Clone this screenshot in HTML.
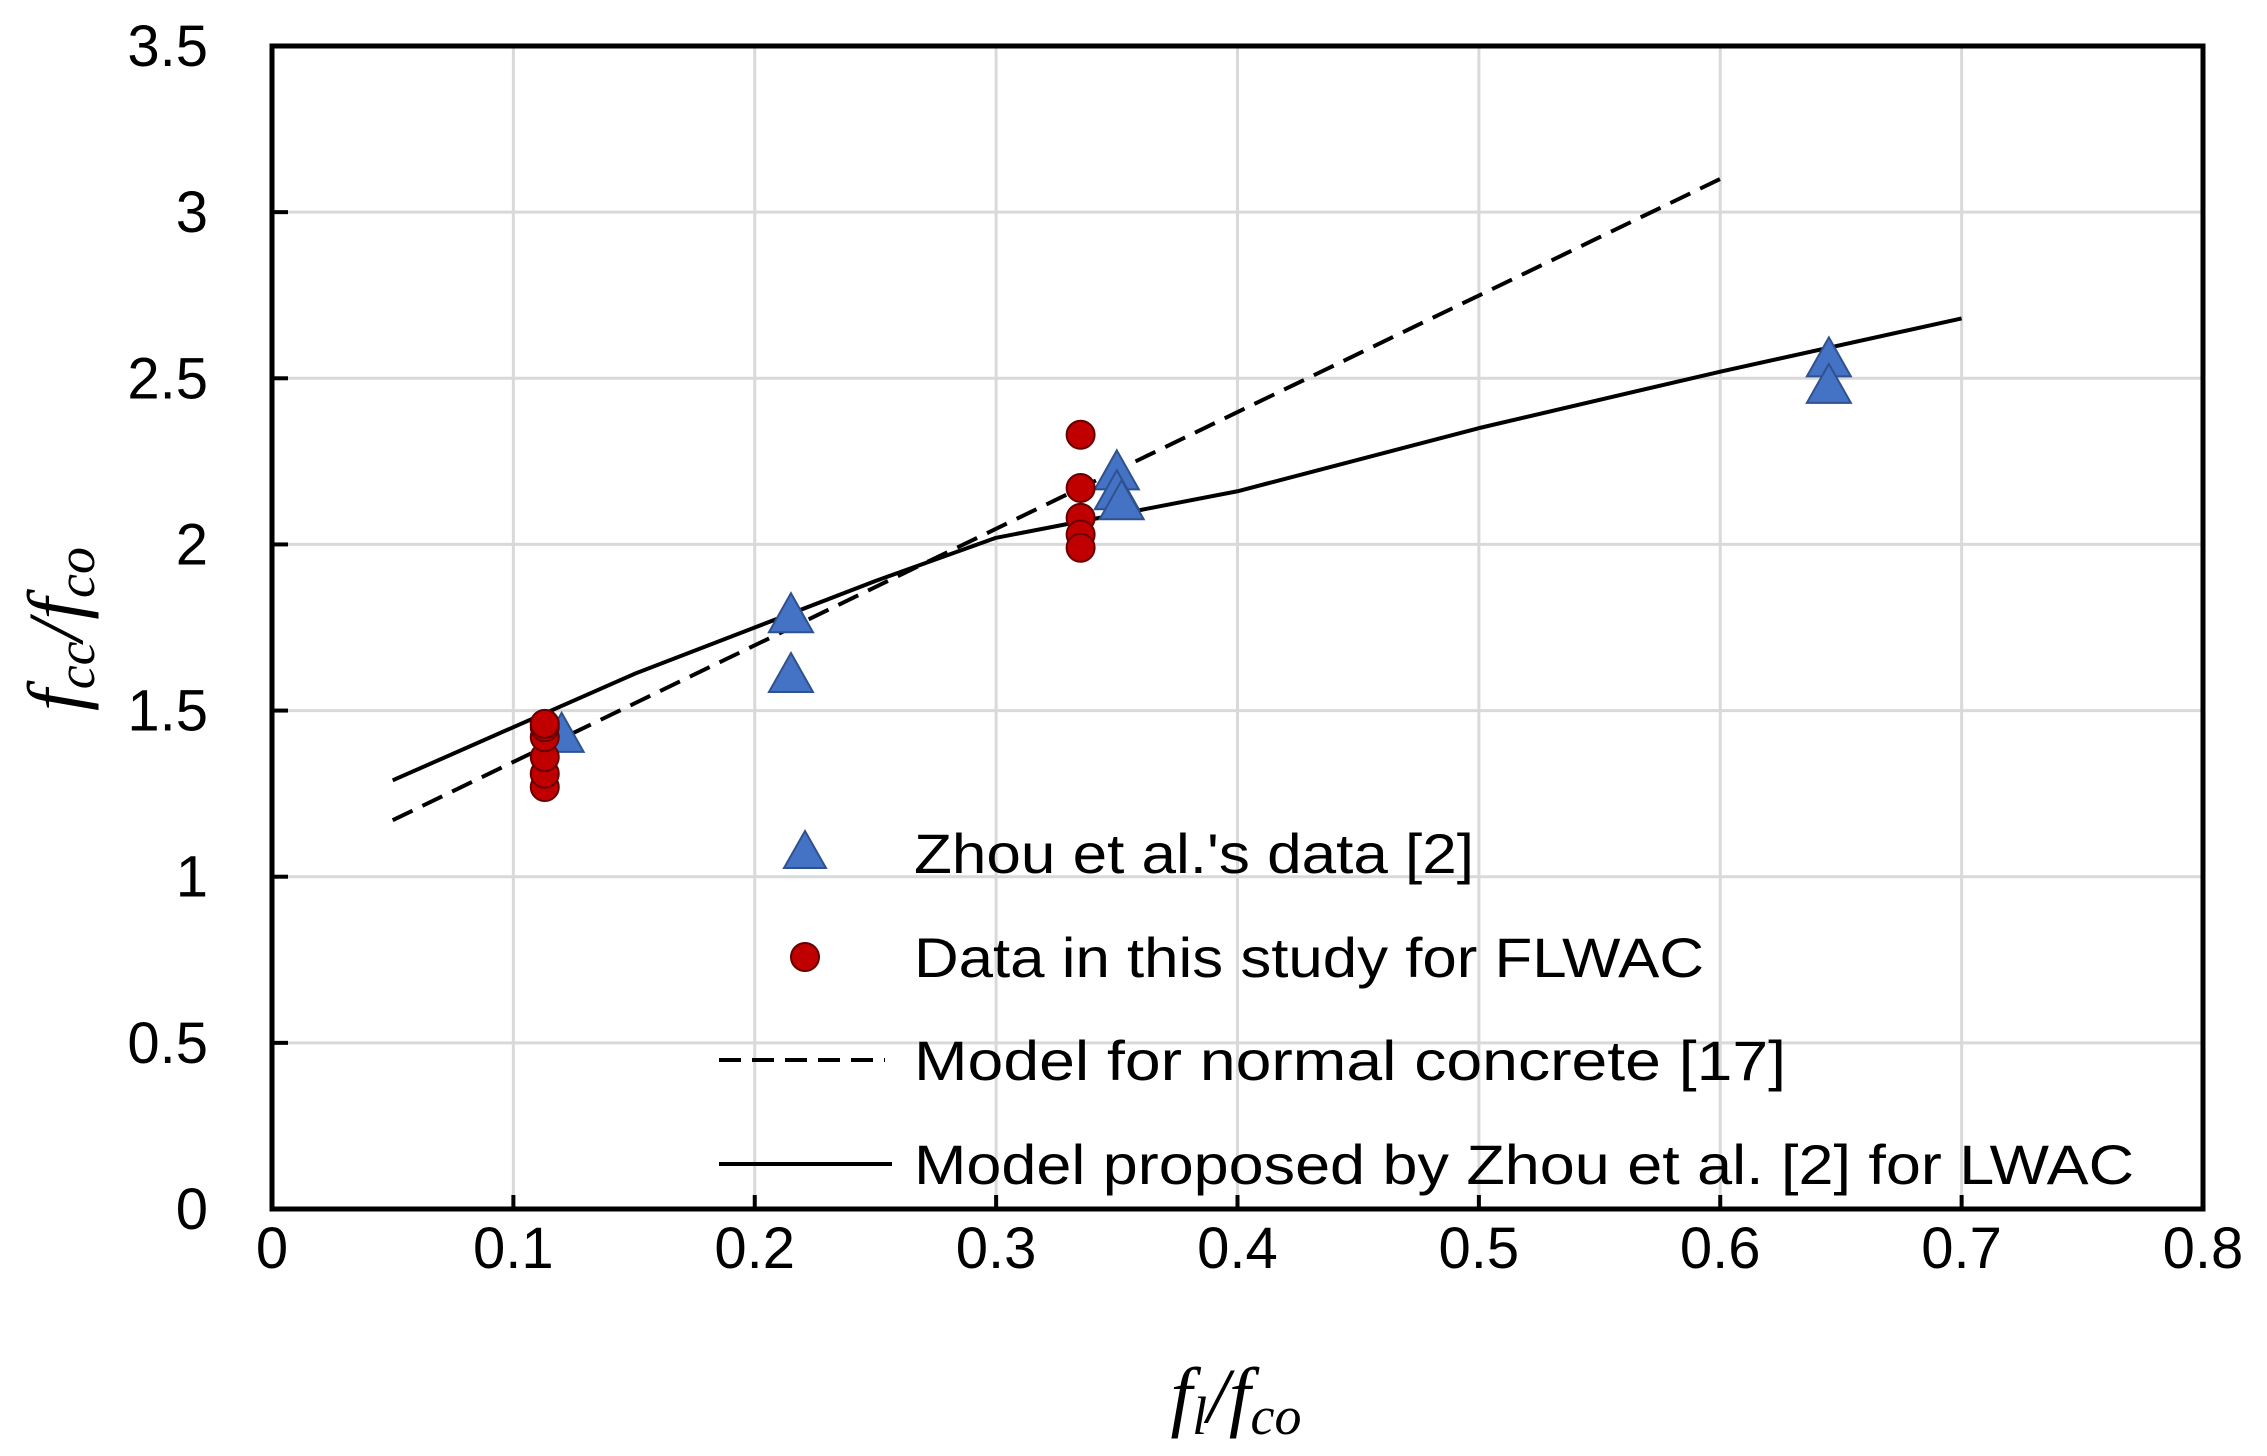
<!DOCTYPE html>
<html><head><meta charset="utf-8"><style>
body{margin:0;background:#fff}
svg{display:block;font-family:"Liberation Sans",sans-serif}
</style></head><body>
<svg id="chart" width="2267" height="1456" viewBox="0 0 2267 1456">
<g id="grid"></g>
<g id="axes"></g>
<g id="series"></g>
<g id="legend">
  <polygon points="805,831 826,868 784,868" fill="#4472c4" stroke="#2f528f" stroke-width="2"/>
  <text x="914" y="873" font-size="56" textLength="560" lengthAdjust="spacingAndGlyphs">Zhou et al.'s data [2]</text>
  <circle cx="805" cy="957" r="14" fill="#c00000" stroke="#600" stroke-width="2"/>
  <text x="914" y="977" font-size="56" textLength="790" lengthAdjust="spacingAndGlyphs">Data in this study for FLWAC</text>
  <line x1="719" y1="1060" x2="885" y2="1060" stroke="#000" stroke-width="4" stroke-dasharray="22,11"/>
  <text x="914" y="1080" font-size="56" textLength="872" lengthAdjust="spacingAndGlyphs">Model for normal concrete [17]</text>
  <line x1="719" y1="1164" x2="892" y2="1164" stroke="#000" stroke-width="4"/>
  <text x="914" y="1184" font-size="56" textLength="1220" lengthAdjust="spacingAndGlyphs">Model proposed by Zhou et al. [2] for LWAC</text>
</g>
<text x="1236" y="1422" font-size="78" font-style="italic" text-anchor="middle" font-family="Liberation Serif,serif">f<tspan font-size="54" dy="12">l</tspan><tspan dy="-12">/f</tspan><tspan font-size="54" dy="12">co</tspan></text>
<text transform="translate(82,629) rotate(-90)" font-size="78" font-style="italic" text-anchor="middle" font-family="Liberation Serif,serif">f<tspan font-size="54" dy="12">cc</tspan><tspan dy="-12">/f</tspan><tspan font-size="54" dy="12">co</tspan></text>
</svg>
<script>
const xTicks=[0,0.1,0.2,0.3,0.4,0.5,0.6,0.7,0.8];
const xTickLabels=["0","0.1","0.2","0.3","0.4","0.5","0.6","0.7","0.8"];
const yTicks=[0,0.5,1,1.5,2,2.5,3,3.5];
const yTickLabels=["0","0.5","1","1.5","2","2.5","3","3.5"];
const zhouX=[0.12,0.215,0.215,0.35,0.35,0.352,0.645,0.645];
const zhouY=[1.43,1.79,1.61,2.22,2.16,2.13,2.56,2.48];
const studyX=[0.113,0.113,0.113,0.113,0.113,0.113,0.335,0.335,0.335,0.335,0.335];
const studyY=[1.27,1.31,1.36,1.42,1.45,1.46,2.33,2.17,2.08,2.03,1.99];
const normalX=[0.05,0.6];
const normalY=[1.17,3.1];
const lwacX=[0.05,0.1,0.15,0.2,0.25,0.3,0.35,0.4,0.5,0.6,0.7];
const lwacY=[1.29,1.45,1.61,1.75,1.89,2.02,2.09,2.16,2.35,2.52,2.68];

const L=272,R=2203,T=46,B=1209;
const sx=v=>L+(v-0)/(0.8-0)*(R-L);
const sy=v=>B-(v-0)/(3.5-0)*(B-T);
const NS="http://www.w3.org/2000/svg";
function mk(tag,attrs,parent){const e=document.createElementNS(NS,tag);for(const k in attrs)e.setAttribute(k,attrs[k]);parent.appendChild(e);return e;}
const grid=document.getElementById('grid'),axes=document.getElementById('axes'),series=document.getElementById('series');
xTicks.forEach((v,i)=>{
  if(i>0&&i<xTicks.length-1){const g=mk('line',{x1:sx(v),x2:sx(v),y1:T,y2:B,stroke:'#d9d9d9','stroke-width':3},grid);
  
  
  const t=mk('line',{x1:sx(v),x2:sx(v),y1:B,y2:B-14,stroke:'#000','stroke-width':4},axes);
  
  }
  const lb=mk('text',{x:sx(v),y:1268,'font-size':58,'text-anchor':'middle'},axes);lb.textContent=xTickLabels[i];
  
  
});
yTicks.forEach((v,i)=>{
  if(i>0&&i<yTicks.length-1){const g=mk('line',{x1:L,x2:R,y1:sy(v),y2:sy(v),stroke:'#d9d9d9','stroke-width':3},grid);
  
  
  const t=mk('line',{x1:L,x2:L+16,y1:sy(v),y2:sy(v),stroke:'#000','stroke-width':4},axes);
  
  }
  const lb=mk('text',{x:208,y:sy(v)+20,'font-size':58,'text-anchor':'end'},axes);lb.textContent=yTickLabels[i];
  
  
});
const frame=mk('rect',{x:L,y:T,width:R-L,height:B-T,fill:'none',stroke:'#000','stroke-width':5},axes);


const nl=mk('polyline',{points:normalX.map((x,i)=>sx(x)+','+sy(normalY[i])).join(' '),fill:'none',stroke:'#000','stroke-width':4,'stroke-dasharray':'22,11'},series);


const ll=mk('polyline',{points:lwacX.map((x,i)=>sx(x)+','+sy(lwacY[i])).join(' '),fill:'none',stroke:'#000','stroke-width':4,'stroke-linejoin':'round'},series);


zhouX.forEach((x,i)=>{const cx=sx(x),cy=sy(zhouY[i]);
  const p=mk('polygon',{points:`${cx},${cy-21} ${cx+22},${cy+18} ${cx-22},${cy+18}`,fill:'#4472c4',stroke:'#2f528f','stroke-width':2},series);
  
  });
studyX.forEach((x,i)=>{
  const c=mk('circle',{cx:sx(x),cy:sy(studyY[i]),r:14,fill:'#c00000',stroke:'#600','stroke-width':2},series);
  
  });
</script>
</body></html>
